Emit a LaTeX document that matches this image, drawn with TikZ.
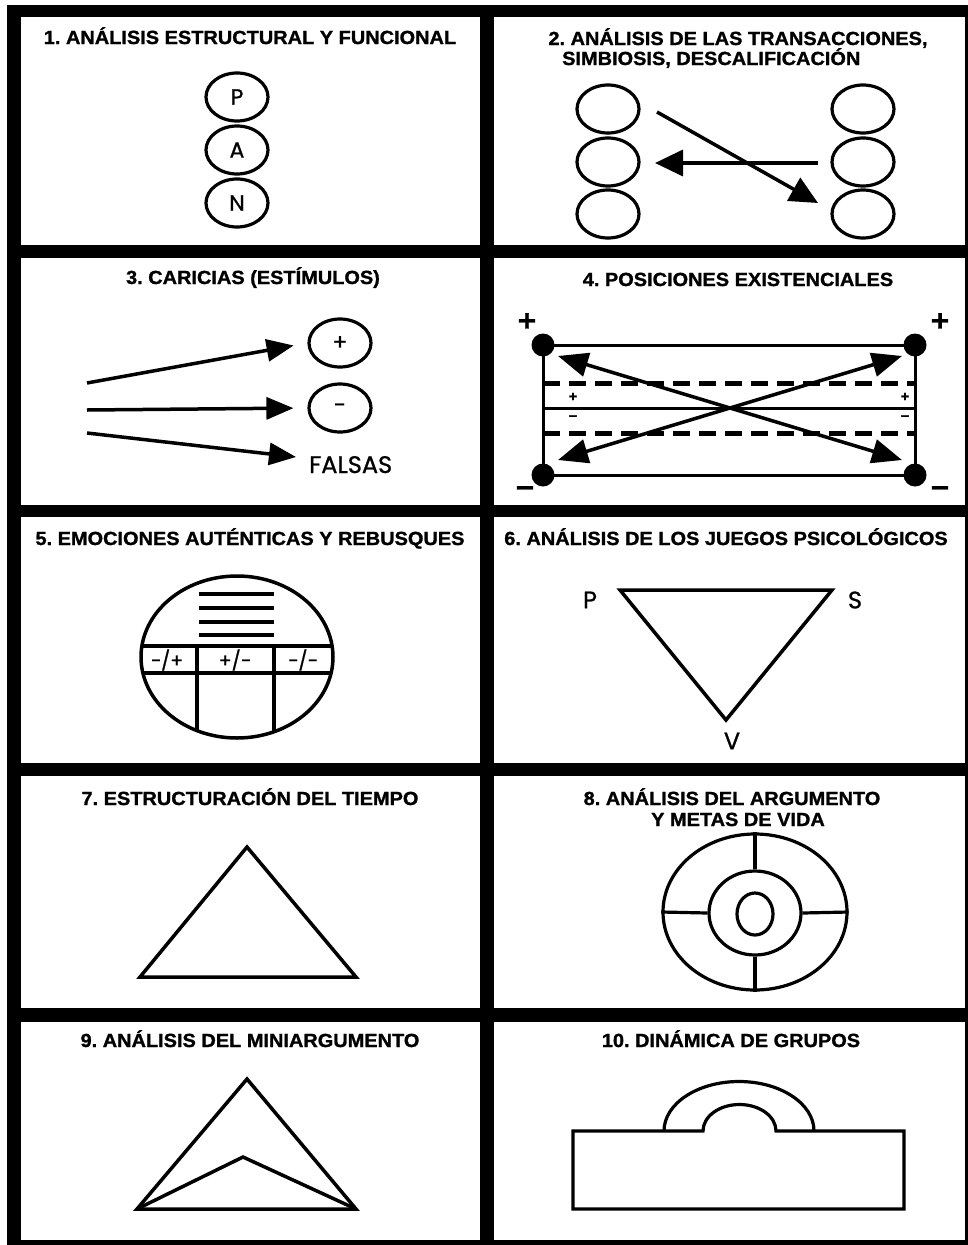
\documentclass[tikz,border=0pt]{standalone}
\usepackage{fontspec}
\setmainfont{Liberation Sans}
\newfontfamily\titlefont{Liberation Sans}[FakeStretch=1.05, FakeBold=1.2]
\newfontfamily\geofont{Poppins}[FakeBold=1]
\usetikzlibrary{arrows.meta, shapes.geometric}
\frenchspacing

\begin{document}
\begin{tikzpicture}[x=1pt, y=-1pt,
	paneltitle/.style={font=\titlefont\bfseries\fontsize{19}{21}\selectfont, anchor=base, inner sep=0pt},
	figline/.style={line width=3.5pt},
	ego/.style={draw, ellipse, line width=3.2pt, inner sep=0pt, minimum width=62pt, minimum height=48pt, font=\geofont\fontsize{22}{22}\selectfont},
	ring/.style={draw, ellipse, line width=3.2pt, inner sep=0pt},
	geolabel/.style={font=\geofont\fontsize{24}{24}\selectfont, inner sep=0pt},
	arr/.style={line width=3.5pt, -{Triangle[length=28pt, width=26pt]}},
	dblarr/.style={line width=3.5pt, {Triangle[length=30pt, width=24pt]}-{Triangle[length=30pt, width=24pt]}},
	dot/.style={circle, fill, inner sep=0pt, minimum size=23pt},
	bigsign/.style={font=\titlefont\bfseries\fontsize{30}{30}\selectfont, inner sep=0pt},
	smallsign/.style={font=\titlefont\bfseries\fontsize{14}{14}\selectfont, inner sep=0pt}]
	\useasboundingbox (0,0) rectangle (968,1245);
	% frame and panels
	\fill[white] (0,0) rectangle (968,1245);
	\fill[black] (7,5) rectangle (968,1245);
	\foreach \ya/\yb in {17/245, 258/505, 517/763, 776/1008, 1022/1240} {
		\fill[white] (21,\ya) rectangle (480,\yb);
		\fill[white] (494,\ya) rectangle (965,\yb);
	}
	% Panel 1: P A N
	\begin{scope}
		\node[paneltitle] (t1) at (250,44) {1. ANÁLISIS ESTRUCTURAL Y FUNCIONAL};
		\node[ego] (p) at (237,97) {P};
		\node[ego] (a) at (237,150) {A};
		\node[ego] (n) at (237,203) {N};
	\end{scope}
	% Panel 2: transactions
	\begin{scope}
		\node[paneltitle] (t2a) at (738,45) {2. ANÁLISIS DE LAS TRANSACCIONES,};
		\node[paneltitle, anchor=base west] (t2b) at (562,65) {SIMBIOSIS, DESCALIFICACIÓN};
		\foreach \i/\y in {1/109, 2/162, 3/214} {
			\node[ego] (l\i) at (608,\y) {};
			\node[ego] (r\i) at (863,\y) {};
		}
		\coordinate (d1) at (657,112);
		\coordinate (d2) at (818,203);
		\coordinate (h1) at (818,163);
		\coordinate (h2) at (655,163);
		\draw[arr] (d1) -- (d2);
		\draw[arr] (h1) -- (h2);
	\end{scope}
	% Panel 3: strokes
	\begin{scope}
		\node[paneltitle] (t3) at (253,284) {3. CARICIAS (ESTÍMULOS)};
		\node[ego, font=\geofont\fontsize{22}{22}\selectfont] (pos) at (340,343) {+};
		\node[ego, font=\geofont\fontsize{22}{22}\selectfont] (neg) at (340,408) {-};
		\node[geolabel, anchor=base west] (fal) at (309,473) {FALSAS};
		\coordinate (s1) at (87,383);
		\coordinate (s2) at (87,410);
		\coordinate (s3) at (87,433);
		\coordinate (e3) at (296,457);
		\draw[arr, -{Triangle[length=27pt, width=22pt]}, shorten >=14pt] (s1) -- (pos.west);
		\draw[arr, -{Triangle[length=27pt, width=22pt]}, shorten >=14pt] (s2) -- (neg.west);
		\draw[arr, -{Triangle[length=27pt, width=22pt]}] (s3) -- (e3);
	\end{scope}
	% Panel 4: existential positions
	\begin{scope}
		\node[paneltitle] (t4) at (738,286) {4. POSICIONES EXISTENCIALES};
		\node[dot] (tl) at (543,345) {};
		\node[dot] (tr) at (915,345) {};
		\node[dot] (bl) at (543,475) {};
		\node[dot] (br) at (915,475) {};
		\draw[line width=3pt] (tl.center) -- (tr.center) -- (br.center) -- (bl.center) -- cycle;
		\draw[line width=3pt] (543,408) -- (915,408);
		\draw[line width=5pt, dash pattern=on 17pt off 9pt] (543,383) -- (915,383);
		\draw[line width=5pt, dash pattern=on 17pt off 9pt] (543,433) -- (915,433);
		\node[bigsign] (ptl) at (527,322) {+};
		\node[bigsign] (ptr) at (940,322) {+};
		\node[bigsign] (mbl) at (525,492) {−};
		\node[bigsign] (mbr) at (940,492) {−};
		\node[smallsign] (sp1) at (573,397) {+};
		\node[smallsign] (sp2) at (905,397) {+};
		\node[smallsign] (sm1) at (573,418) {−};
		\node[smallsign] (sm2) at (905,418) {−};
		\coordinate (x1) at (558,356);
		\coordinate (x2) at (902,460);
		\coordinate (x3) at (558,460);
		\coordinate (x4) at (902,356);
		\draw[dblarr] (x1) -- (x2);
		\draw[dblarr] (x3) -- (x4);
	\end{scope}
	% Panel 5: emotions and rackets
	\begin{scope}
		\node[paneltitle] (t5) at (250,545) {5. EMOCIONES AUTÉNTICAS Y REBUSQUES};
		\foreach \y in {594, 608, 622, 635}
			\draw[figline] (199,\y) -- (274,\y);
		\begin{scope}
			\clip (237,657) ellipse [x radius=96pt, y radius=81pt];
			\draw[figline] (130,646) -- (345,646);
			\draw[figline] (130,673) -- (345,673);
			\draw[figline] (197,646) -- (197,760);
			\draw[figline] (274,646) -- (274,760);
		\end{scope}
		\draw[figline] (237,657) ellipse [x radius=96pt, y radius=81pt];
		\node[font=\geofont\fontsize{19}{19}\selectfont, inner sep=0pt] (c1) at (167,660) {−/+};
		\node[font=\geofont\fontsize{19}{19}\selectfont, inner sep=0pt] (c2) at (235,660) {+/−};
		\node[font=\geofont\fontsize{19}{19}\selectfont, inner sep=0pt] (c3) at (303,660) {−/−};
	\end{scope}
	% Panel 6: drama triangle
	\begin{scope}
		\node[paneltitle] (t6) at (726,545) {6. ANÁLISIS DE LOS JUEGOS PSICOLÓGICOS};
		\coordinate (v1) at (620,590);
		\coordinate (v2) at (832,590);
		\coordinate (v3) at (726,720);
		\draw[figline] (v1) -- (v2) -- (v3) -- cycle;
		\node[geolabel] (lp) at (590,600) {P};
		\node[geolabel] (ls) at (855,600) {S};
		\node[geolabel] (lv) at (732,741) {V};
	\end{scope}
	% Panel 7: time structuring
	\begin{scope}
		\node[paneltitle] (t7) at (250,805) {7. ESTRUCTURACIÓN DEL TIEMPO};
		\draw[figline] (247,847) -- (356,977) -- (140,977) -- cycle;
	\end{scope}
	% Panel 8: script and life goals
	\begin{scope}
		\node[paneltitle] (t8a) at (732,805) {8. ANÁLISIS DEL ARGUMENTO};
		\node[paneltitle] (t8b) at (738,826) {Y METAS DE VIDA};
		\node[ring, minimum width=184pt, minimum height=156pt] (outer) at (755,912) {};
		\node[ring, minimum width=92pt, minimum height=84pt] (mid) at (755,913) {};
		\node[ring, minimum width=36pt, minimum height=42pt] (core) at (755,914) {};
		\draw[line width=3.2pt] (outer.north) -- (mid.north);
		\draw[line width=3.2pt] (mid.south) -- (outer.south);
		\draw[line width=3.2pt] (outer.west) -- (mid.west);
		\draw[line width=3.2pt] (mid.east) -- (outer.east);
	\end{scope}
	% Panel 9: miniscript
	\begin{scope}
		\node[paneltitle] (t9) at (250,1047) {9. ANÁLISIS DEL MINIARGUMENTO};
		\coordinate (m1) at (137,1209);
		\coordinate (m2) at (247,1079);
		\coordinate (m3) at (356,1209);
		\coordinate (m4) at (243,1157);
		\draw[figline] (m1) -- (m2) -- (m3) -- cycle;
		\draw[figline] (m1) -- (m4) -- (m3);
	\end{scope}
	% Panel 10: group dynamics
	\begin{scope}
		\node[paneltitle] (t10) at (731,1047) {10. DINÁMICA DE GRUPOS};
		\draw[line width=3.2pt] (573,1131) -- (703,1131) arc[start angle=180, end angle=0, x radius=36.5pt, y radius=26.5pt] -- (904,1131) -- (904,1209) -- (573,1209) -- cycle;
		\draw[line width=3.2pt] (664,1131) arc[start angle=180, end angle=0, x radius=75pt, y radius=49.5pt];
	\end{scope}
\end{tikzpicture}
\end{document}
